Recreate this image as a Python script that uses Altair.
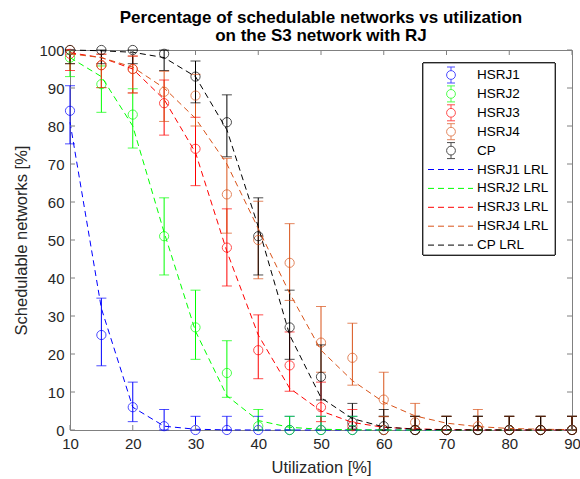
import altair as alt
import pandas as pd

x_vals = [10, 15, 20, 25, 30, 35, 40, 45, 50, 55, 60, 65, 70, 75, 80, 85, 90]
series_names = ["HSRJ1", "HSRJ2", "HSRJ3", "HSRJ4", "CP"]
lrl_names = ["HSRJ1 LRL", "HSRJ2 LRL", "HSRJ3 LRL", "HSRJ4 LRL", "CP LRL"]
colors = ["#0000FF", "#00FF00", "#FF0000", "#D95319", "#000000"]

# measured percentages
hsrj1 = [84, 25, 6, 1, 0, 0, 0, 0, 0, 0, 0, 0, 0, 0, 0, 0, 0]
hsrj2 = [98, 91, 83, 51, 27, 15, 1, 0, 0, 0, 0, 0, 0, 0, 0, 0, 0]
hsrj3 = [99, 96, 95, 86, 74, 48, 21, 17, 6, 1, 0, 0, 0, 0, 0, 0, 0]
hsrj4 = [100, 96, 95, 89, 88, 62, 50, 44, 23, 19, 8, 2, 0, 1, 0, 0, 0]
cp = [100, 100, 100, 99, 93, 81, 51, 27, 14, 2, 1, 0, 0, 0, 0, 0, 0]

# error bar bounds
hsrj1_lo = [75.3, 16.9, 2.2, 0.03, 0, 0, 0, 0, 0, 0, 0, 0, 0, 0, 0, 0, 0]
hsrj1_hi = [90.6, 34.7, 12.6, 5.4, 3.6, 3.6, 3.6, 3.6, 3.6, 3.6, 3.6, 3.6, 3.6, 3.6, 3.6, 3.6, 3.6]
hsrj2_lo = [93.0, 83.6, 74.2, 40.8, 18.6, 8.6, 0.03, 0, 0, 0, 0, 0, 0, 0, 0, 0, 0]
hsrj2_hi = [99.8, 95.8, 89.8, 61.1, 36.8, 23.5, 5.4, 3.6, 3.6, 3.6, 3.6, 3.6, 3.6, 3.6, 3.6, 3.6, 3.6]
hsrj3_lo = [94.6, 90.1, 88.7, 77.6, 64.3, 37.9, 13.5, 10.2, 2.2, 0.03, 0, 0, 0, 0, 0, 0, 0]
hsrj3_hi = [99.97, 98.9, 98.4, 92.1, 82.3, 58.2, 30.3, 25.8, 12.6, 5.4, 3.6, 3.6, 3.6, 3.6, 3.6, 3.6, 3.6]
hsrj4_lo = [96.4, 90.1, 88.7, 81.2, 80.0, 51.8, 39.8, 34.1, 15.2, 11.8, 3.5, 0.24, 0, 0.03, 0, 0, 0]
hsrj4_hi = [100, 98.9, 98.4, 94.4, 93.6, 71.5, 60.2, 54.3, 32.5, 28.1, 15.2, 7.0, 3.6, 5.4, 3.6, 3.6, 3.6]
cp_lo = [96.4, 96.4, 96.4, 94.6, 86.1, 71.9, 40.8, 18.6, 7.9, 0.24, 0.03, 0, 0, 0, 0, 0, 0]
cp_hi = [100, 100, 100, 99.97, 97.1, 88.2, 61.1, 36.8, 22.4, 7.0, 5.4, 3.6, 3.6, 3.6, 3.6, 3.6, 3.6]

# logistic regression lines (read at each utilization)
hsrj1_lrl = [81, 32, 6, 1, 0.2, 0.03, 0, 0, 0, 0, 0, 0, 0, 0, 0, 0, 0]
hsrj2_lrl = [98, 93, 80, 52, 26, 9, 2.5, 0.7, 0.2, 0.05, 0, 0, 0, 0, 0, 0, 0]
hsrj3_lrl = [99.3, 98, 95, 87, 73, 47, 25, 11, 5, 2, 0.7, 0.3, 0.1, 0, 0, 0, 0]
hsrj4_lrl = [99, 98, 95.5, 90, 82, 70, 53, 36, 21, 13, 7.3, 3.7, 1.8, 0.9, 0.4, 0.2, 0.1]
cp_lrl = [100, 99.8, 99.4, 98, 93, 79, 53.5, 25, 8.5, 3, 0.8, 0.2, 0.05, 0, 0, 0, 0]

x_ticks = [10, 20, 30, 40, 50, 60, 70, 80, 90]
y_ticks = [0, 10, 20, 30, 40, 50, 60, 70, 80, 90, 100]

FONT = "Liberation Sans"
W, H = 502, 380

vals = [hsrj1, hsrj2, hsrj3, hsrj4, cp]
los = [hsrj1_lo, hsrj2_lo, hsrj3_lo, hsrj4_lo, cp_lo]
his = [hsrj1_hi, hsrj2_hi, hsrj3_hi, hsrj4_hi, cp_hi]
lrls = [hsrj1_lrl, hsrj2_lrl, hsrj3_lrl, hsrj4_lrl, cp_lrl]

rows = []
for name, col, v, lo, hi, lr in zip(series_names, colors, vals, los, his, lrls):
    for i, xv in enumerate(x_vals):
        rows.append({"series": name, "col": col, "x": xv, "v": v[i],
                     "lo": lo[i], "hi": hi[i], "lrl": lr[i]})
df = pd.DataFrame(rows)

xs = alt.Scale(domain=[10, 90], nice=False, zero=False)
ys = alt.Scale(domain=[0, 100], nice=False)
color = alt.Color("col:N", scale=None)

axis_common = dict(ticks=False, tickSize=0, domain=False, grid=False,
                   labelOverlap=False, labelFlush=False,
                   labelFont=FONT, labelFontSize=15, labelColor="#262626",
                   titleFont=FONT, titleFontSize=16.5, titleColor="#262626",
                   titleFontWeight="normal")
x_axis = alt.Axis(values=x_ticks, title="Utilization [%]", labelPadding=6,
                  titlePadding=8, **axis_common)
y_axis = alt.Axis(values=y_ticks, title="Schedulable networks [%]", labelPadding=6,
                  titlePadding=9, **axis_common)

base = alt.Chart(df)

bars = base.mark_rule(strokeWidth=1).encode(
    x=alt.X("x:Q", scale=xs, axis=x_axis),
    y=alt.Y("lo:Q", scale=ys, axis=y_axis),
    y2="hi:Q",
    color=color,
)
caps_lo = base.mark_tick(orient="horizontal", size=10, thickness=1).encode(
    x=alt.X("x:Q", scale=xs, axis=x_axis), y=alt.Y("lo:Q", scale=ys, axis=y_axis), color=color)
caps_hi = base.mark_tick(orient="horizontal", size=10, thickness=1).encode(
    x=alt.X("x:Q", scale=xs, axis=x_axis), y=alt.Y("hi:Q", scale=ys, axis=y_axis), color=color)
pts = base.mark_point(shape="circle", filled=False, size=85, strokeWidth=1).encode(
    x=alt.X("x:Q", scale=xs, axis=x_axis), y=alt.Y("v:Q", scale=ys, axis=y_axis), color=color)
lines = base.mark_line(strokeDash=[6, 4], strokeWidth=1).encode(
    x=alt.X("x:Q", scale=xs, axis=x_axis), y=alt.Y("lrl:Q", scale=ys, axis=y_axis), color=color,
    detail="series:N")

xt = pd.DataFrame({"t": x_ticks})
yt = pd.DataFrame({"t": y_ticks})
TC = "#808080"
xt_bot = alt.Chart(xt).mark_rule(color=TC, strokeWidth=1).encode(
    x=alt.X("t:Q", scale=xs, axis=x_axis), y=alt.value(H), y2=alt.value(H - 5))
xt_top = alt.Chart(xt).mark_rule(color=TC, strokeWidth=1).encode(
    x=alt.X("t:Q", scale=xs, axis=x_axis), y=alt.value(0), y2=alt.value(5))
yt_left = alt.Chart(yt).mark_rule(color=TC, strokeWidth=1).encode(
    y=alt.Y("t:Q", scale=ys, axis=y_axis), x=alt.value(0), x2=alt.value(5))
yt_right = alt.Chart(yt).mark_rule(color=TC, strokeWidth=1).encode(
    y=alt.Y("t:Q", scale=ys, axis=y_axis), x=alt.value(W), x2=alt.value(W - 5))

main = alt.layer(bars, caps_lo, caps_hi, pts, lines, xt_bot, xt_top, yt_left, yt_right)

# legend
leg_rows = list(range(10))
leg_df = pd.DataFrame({
    "row": leg_rows,
    "label": series_names + lrl_names,
    "col": colors + colors,
    "kind": ["eb"] * 5 + ["ln"] * 5,
})
lscale = alt.Scale(domain=[0, 9], range=[25, 195.1])
leg_box = alt.Chart(leg_df).mark_rect(fill="white", stroke="#262626", strokeWidth=0.8).encode(
    x=alt.value(353), x2=alt.value(485), y=alt.value(13), y2=alt.value(205))
eb_path = ("M1.1,0 A1.1,1.1 0 1,1 -1.1,0 A1.1,1.1 0 1,1 1.1,0 "
           "M0,-2 L0,-1.1 M0,1.1 L0,2 M-1,-2 L1,-2 M-1,2 L1,2")
leg_eb = alt.Chart(leg_df).transform_filter(alt.datum.kind == "eb").mark_point(
    shape=eb_path, filled=False, size=64, strokeWidth=1).encode(
    x=alt.value(381), y=alt.Y("row:Q", scale=lscale, axis=None), color=color)
leg_ln = alt.Chart(leg_df).transform_filter(alt.datum.kind == "ln").mark_rule(
    strokeDash=[6, 4], strokeWidth=1).encode(
    x=alt.value(358), x2=alt.value(403), y=alt.Y("row:Q", scale=lscale, axis=None), color=color)
leg_txt = alt.Chart(leg_df).mark_text(align="left", baseline="middle", fontSize=13.5,
                                      font=FONT, color="black").encode(
    x=alt.value(407), y=alt.Y("row:Q", scale=lscale, axis=None), text="label:N")
legend = alt.layer(leg_box, leg_eb, leg_ln, leg_txt)

chart = alt.layer(main, legend).resolve_scale(y="independent").properties(
    width=W, height=H,
    background="white",
    padding={"left": 70, "top": 50, "right": 8, "bottom": 49},
    autosize=alt.AutoSizeParams(type="none"),
    title=alt.TitleParams(
        ["Percentage of schedulable networks vs utilization", "on the S3 network with RJ"],
        fontSize=17, fontWeight="bold", font=FONT, color="black", anchor="middle", offset=-2,
        lineHeight=18),
).configure_view(stroke=TC, strokeWidth=1)

chart.save("out.html", embed_options={"renderer": "svg", "actions": False})
